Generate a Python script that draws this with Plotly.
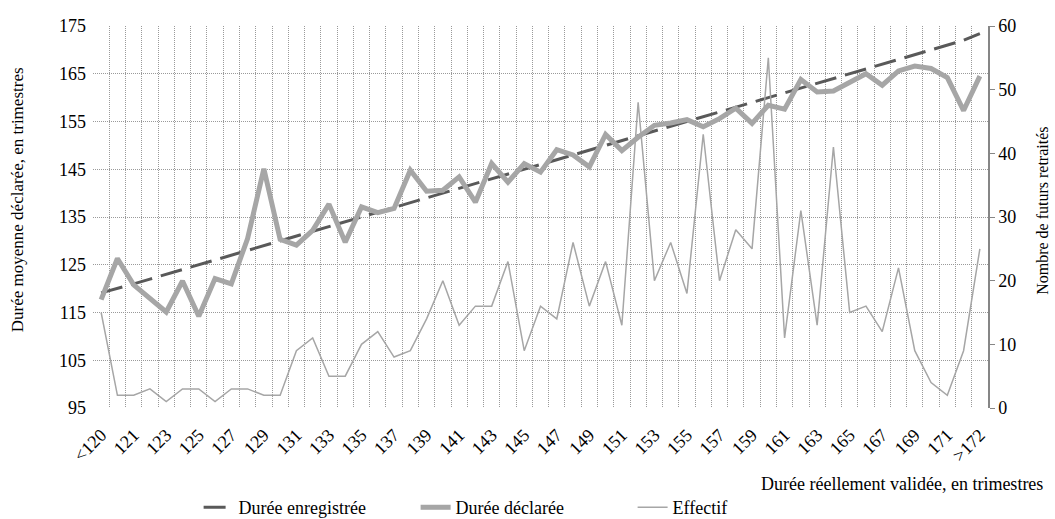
import plotly.graph_objects as go

categories = ["<120", "120", "121", "122", "123", "124", "125", "126", "127", "128",
              "129", "130", "131", "132", "133", "134", "135", "136", "137", "138",
              "139", "140", "141", "142", "143", "144", "145", "146", "147", "148",
              "149", "150", "151", "152", "153", "154", "155", "156", "157", "158",
              "159", "160", "161", "162", "163", "164", "165", "166", "167", "168",
              "169", "170", "171", "172", ">172"]

duree_enregistree = [119.1, 120, 121, 122, 123, 124, 125, 126, 127, 128,
                     129, 130, 131, 132, 133, 134, 135, 136, 137, 138,
                     139, 140, 141, 142, 143, 144, 145, 146, 147, 148,
                     149, 150, 151, 152, 153, 154, 155, 156, 157, 158,
                     159, 160, 161, 162, 163, 164, 165, 166, 167, 168,
                     169, 170, 171, 172, 173.4]

duree_declaree = [117.7, 126.3, 120.8, 117.9, 115.1, 121.6, 114.2, 122.1, 121.0, 130.5,
                  145.1, 130.3, 129.1, 132.2, 137.7, 129.7, 137.1, 135.9, 136.8, 144.8,
                  140.4, 140.6, 143.4, 138.1, 146.2, 142.3, 146.2, 144.4, 149.1, 148.0,
                  145.5, 152.3, 148.9, 151.7, 154.2, 154.7, 155.4, 153.9, 155.6, 157.8,
                  154.6, 158.4, 157.6, 163.8, 161.2, 161.4, 163.1, 165.0, 162.6, 165.6,
                  166.6, 166.1, 164.2, 157.3, 164.5]

effectif = [15, 2, 2, 3, 1, 3, 3, 1, 3, 3,
            2, 2, 9, 11, 5, 5, 10, 12, 8, 9,
            14, 20, 13, 16, 16, 23, 9, 16, 14, 26,
            16, 23, 13, 48, 20, 26, 18, 43, 20, 28,
            25, 55, 11, 31, 13, 41, 15, 16, 12, 22,
            9, 4, 2, 9, 25]

left_ticks = [95, 105, 115, 125, 135, 145, 155, 165, 175]
right_ticks = [0, 10, 20, 30, 40, 50, 60]

tick_text = [c if i % 2 == 0 else "" for i, c in enumerate(categories)]

FONT = "Liberation Serif, Times New Roman, serif"
GRID = "#9a9a9a"

fig = go.Figure()
fig.add_trace(go.Scatter(
    x=categories, y=duree_enregistree, name="Durée enregistrée", mode="lines",
    line=dict(color="#595959", width=3, dash="22px,9px"), yaxis="y"))
fig.add_trace(go.Scatter(
    x=categories, y=duree_declaree, name="Durée déclarée", mode="lines",
    line=dict(color="#a6a6a6", width=5), yaxis="y"))
fig.add_trace(go.Scatter(
    x=categories, y=effectif, name="Effectif", mode="lines",
    line=dict(color="#a6a6a6", width=1.5), yaxis="y2"))

fig.update_layout(
    width=1055, height=519,
    margin=dict(l=93, r=67, t=26, b=111),
    paper_bgcolor="white", plot_bgcolor="white",
    font=dict(family=FONT, size=18, color="black"),
    showlegend=True,
    legend=dict(orientation="h", xref="paper", yref="container",
                x=0.118, xanchor="left", y=0.022, yanchor="middle",
                entrywidth=172,
                font=dict(family=FONT, size=18, color="black"), bgcolor="rgba(0,0,0,0)"),
    xaxis=dict(type="category", categoryorder="array", categoryarray=categories,
               range=[-0.5, len(categories) - 0.5],
               tickmode="array", tickvals=categories, ticktext=tick_text,
               tickson="boundaries", ticks="", tickangle=-45,
               ticklabelstandoff=12,
               showgrid=True, gridcolor=GRID, griddash="1px,1px", gridwidth=1,
               showline=False, zeroline=False, automargin=False,
               tickfont=dict(family=FONT, size=18, color="black")),
    yaxis=dict(range=[95, 175], tickmode="array", tickvals=left_ticks,
               showgrid=True, gridcolor=GRID, griddash="1px,1px", gridwidth=1,
               showline=False, zeroline=False, ticks="", ticklabelstandoff=6,
               automargin=False,
               tickfont=dict(family=FONT, size=18, color="black")),
    yaxis2=dict(range=[0, 60], tickmode="array", tickvals=right_ticks,
                overlaying="y", side="right", showgrid=False, zeroline=False,
                showline=True, linecolor="#868686", linewidth=1.5,
                ticks="outside", ticklen=5, tickcolor="#868686",
                automargin=False,
                tickfont=dict(family=FONT, size=18, color="black")),
    annotations=[
        dict(text="Durée moyenne déclarée, en trimestres", xref="paper", yref="paper",
             x=-0.084, y=0.546, xanchor="center", yanchor="middle", textangle=-90,
             showarrow=False, font=dict(family=FONT, size=17, color="black")),
        dict(text="Nombre de futurs retraités", xref="paper", yref="paper",
             x=1.061, y=0.515, xanchor="center", yanchor="middle", textangle=-90,
             showarrow=False, font=dict(family=FONT, size=16, color="black")),
        dict(text="Durée réellement validée, en trimestres", xref="paper", yref="paper",
             x=1.064, y=-0.2, xanchor="right", yanchor="middle",
             showarrow=False, font=dict(family=FONT, size=18, color="black")),
    ],
)

fig.write_html("out.html")
